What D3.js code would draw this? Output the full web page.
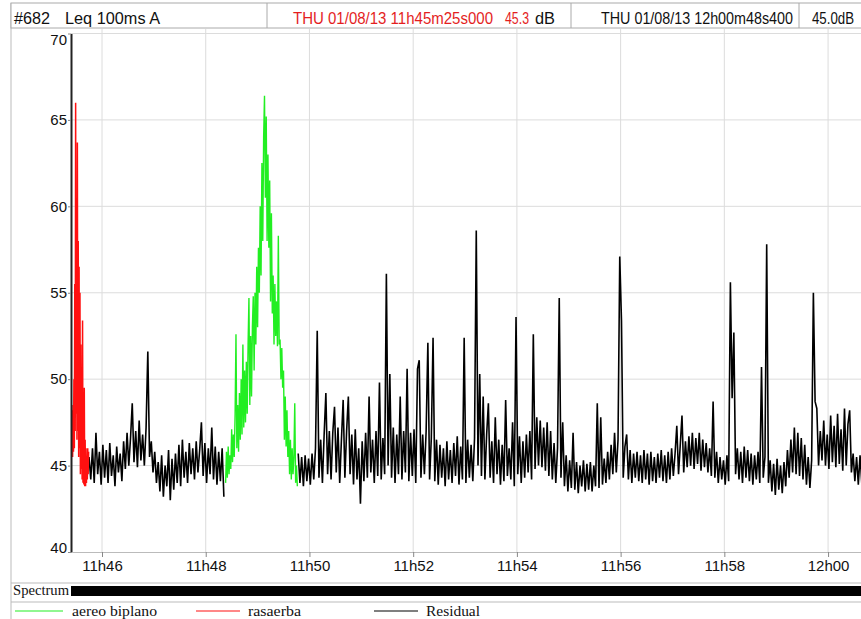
<!DOCTYPE html>
<meta charset="utf-8">
<style>
    body { margin: 0; background: #fff; }
    svg { display: block; }
    .grid line { stroke: #dcdcdc; stroke-width: 1; }
    .axis text { font-family: "Liberation Sans", Arial, sans-serif; font-size: 15px; fill: #111; }
    .head text { font-family: "Liberation Sans", Arial, sans-serif; font-size: 16px; }
    .legend text, .spect text { font-family: "Liberation Serif", "Times New Roman", serif; font-size: 14.5px; fill: #111; }
</style>

<svg width="861" height="619"></svg>

<script src="https://d3js.org/d3.v7.min.js"></script>

<script>

    // measurement window (11h45m25s000 -> 12h00m48s400)
    var startTime = new Date(2013, 7, 1, 11, 45, 25, 0),
        endTime = new Date(2013, 7, 1, 12, 0, 48, 400);

    // rasaerba, Leq 100ms A, one value every 0.5 s from 11h45m25s
    var rasaerbaLeq = [46, 48.2, 45.5, 48.5, 45.8, 50, 46, 55.5, 47, 66,
        48, 60, 46.5, 63.7, 47, 58, 45.5, 56.5, 46, 55,
        44.5, 52, 44.8, 50, 44.2, 53.4, 44, 48, 43.9, 49.5,
        43.8, 46.5, 43.8, 46, 44, 45.5, 44.2, 46, 44.5, 45.8];

    // aereo biplano, one value every 1 s from 11h48m23s
    var biplanoLeq = [44.0, 45.8, 44.3, 46.1, 44.5, 45.6, 44.8, 47.1, 45.2, 46.8,
        45.5, 48.0, 52.6, 46.0, 48.5, 45.8, 49.2, 46.5, 50.0, 46.8,
        52.0, 47.2, 50.5, 47.5, 51.0, 48.0, 52.0, 54.7, 48.5, 52.5,
        49.0, 53.0, 54.8, 50.5, 55.0, 52.0, 56.5, 53.0, 57.6, 55.0,
        60.0, 56.0, 62.5, 58.0, 64.0, 66.4, 60.5, 65.2, 58.0, 63.0,
        57.6, 61.5, 54.5, 59.6, 53.8, 56.0, 52.0, 55.5, 52.5, 54.5,
        51.9, 58.3, 52.0, 52.3, 50.0, 51.8, 49.5, 50.5, 46.5, 49.0,
        46.1, 48.2, 45.5, 47.0, 44.5, 46.5, 44.2, 46.0, 44.5, 45.5,
        48.6, 44.0, 45.0, 43.8];

    // residual, one value every 2 s from 11h45m45s (before the biplane)
    var residualLeqA = [45.5, 44.2, 46.0, 44.0, 46.9, 44.5, 45.8, 43.9, 46.2, 44.3,
        45.9, 44.0, 46.3, 44.4, 45.6, 43.8, 46.1, 44.6, 45.7, 44.1,
        46.4, 44.8, 46.9, 45.0, 46.6, 48.6, 45.2, 47.0, 44.9, 47.6,
        45.3, 46.8, 45.0, 47.2, 51.6, 45.5, 46.4, 44.6, 45.8, 44.0,
        45.2, 43.5, 45.6, 43.2, 45.0, 43.8, 45.9, 43.0, 45.4, 43.6,
        45.7, 44.0, 46.2, 43.8, 46.5, 44.3, 45.8, 44.0, 46.3, 44.5,
        46.0, 44.2, 46.4, 44.6, 45.9, 47.5, 44.4, 46.3, 44.0, 46.0,
        44.5, 47.2, 44.2, 46.1, 43.9, 45.8, 44.1, 46.0, 43.2];

    // residual, one value every 2 s from 11h49m47s (after the biplane)
    var residualLeqB = [45.7, 44.0, 45.5, 43.8, 45.6, 44.1, 45.4, 43.9, 45.7, 44.2,
        46.0, 52.8, 44.3, 46.5, 44.0, 46.8, 49.2, 44.5, 47.0, 44.2,
        46.9, 48.4, 44.6, 47.2, 44.0, 46.5, 48.8, 44.3, 47.0, 49.0,
        44.5, 46.8, 43.9, 47.1, 44.2, 46.0, 42.8, 46.4, 44.1, 46.9,
        44.3, 49.0, 44.6, 46.5, 44.0, 47.0, 44.4, 49.8, 44.2, 46.6,
        44.5, 56.1, 45.0, 50.3, 44.3, 47.2, 44.0, 46.8, 44.5, 49.0,
        44.2, 47.0, 44.6, 50.6, 44.1, 46.9, 44.4, 47.1, 44.0, 50.6,
        51.1, 44.3, 46.8, 44.5, 47.0, 52.1, 44.2, 46.6, 52.4, 44.1,
        46.5, 43.9, 46.2, 44.3, 46.0, 43.8, 46.4, 44.2, 45.9, 44.0,
        46.3, 44.4, 46.7, 43.9, 46.1, 44.2, 52.4, 44.0, 46.5, 44.3,
        46.2, 44.1, 46.6, 58.6, 45.0, 50.3, 44.4, 49.0, 44.2, 46.8,
        48.6, 44.3, 46.4, 44.0, 47.8, 44.5, 46.5, 43.9, 46.2, 44.1,
        48.8, 44.4, 46.0, 44.2, 47.5, 43.8, 53.6, 44.5, 46.7, 44.0,
        46.4, 44.3, 46.8, 44.6, 47.0, 44.2, 52.6, 44.8, 47.8, 45.0,
        47.6, 44.9, 47.2, 44.7, 47.5, 44.4, 47.0, 44.2, 46.3, 44.0,
        46.0, 54.7, 44.3, 47.5, 43.8, 45.6, 43.5, 45.3, 43.7, 46.9,
        43.6, 45.2, 43.4, 45.0, 43.8, 45.3, 43.5, 45.1, 43.6, 45.2,
        43.5, 45.0, 43.8, 48.6, 43.7, 47.8, 43.9, 45.4, 44.0, 45.8,
        44.2, 46.2, 44.5, 46.9, 44.6, 46.5, 57.1, 53.4, 44.3, 46.1,
        46.8, 44.2, 45.9, 44.0, 45.7, 44.3, 45.8, 44.1, 45.6, 44.0,
        45.9, 44.2, 45.7, 43.9, 45.8, 44.1, 45.5, 44.0, 45.7, 44.3,
        45.9, 44.1, 45.6, 44.0, 45.8, 44.2, 46.0, 44.4, 45.7, 47.3,
        44.5, 46.2, 47.9, 44.6, 46.4, 44.9, 46.7, 45.0, 46.9, 44.8,
        46.6, 45.1, 46.9, 44.7, 46.5, 44.9, 46.3, 44.6, 46.0, 44.4,
        48.7, 44.3, 45.8, 44.0, 45.5, 44.2, 45.3, 43.9, 45.6, 44.1,
        55.6, 48.9, 52.7, 44.5, 46.0, 44.2, 45.8, 44.0, 46.1, 44.3,
        45.9, 44.1, 45.7, 43.9, 45.6, 44.2, 45.8, 44.0, 50.7, 44.3,
        45.5, 57.8, 44.0, 45.3, 43.5, 45.1, 43.3, 45.4, 43.6, 45.0,
        43.4, 45.2, 43.8, 45.9, 44.3, 46.5, 44.6, 47.2, 44.5, 46.9,
        44.4, 46.6, 44.2, 46.2, 43.9, 45.5, 43.7, 45.3, 55.0, 48.7,
        48.3, 45.0, 47.0, 45.3, 47.6, 45.0, 46.8, 44.8, 47.9, 45.2,
        47.3, 44.9, 48.0, 45.1, 47.1, 44.7, 48.3, 45.0, 47.4, 48.2,
        44.6, 45.7, 44.1, 45.5, 43.9, 45.6, 44.0, 45.4, 43.8, 45.7,
        44.2];

    var dbTicks = [40, 45, 50, 55, 60, 65, 70];

    var legendNames = ["aereo biplano", "rasaerba", "Residual"],
        legendColors = ["#22ee22", "#ff1010", "#000000"];

    var svg = d3.select("svg"),
        width = +svg.attr("width"),
        height = +svg.attr("height");

    function series(values, t0, stepSec) {
        return values.map(function (v, i) {
            return {time: new Date(+t0 + i * stepSec * 1000), v: v};
        });
    }

    var x = d3.scaleTime().domain([startTime, endTime]).range([71.75, 869.9]);
    var y = d3.scaleLinear().domain([40, 70]).range([552, 33.5]);

    var timeTicks = x.ticks(d3.timeMinute.every(2));

    // frame + header
    svg.append("line").attr("x1", 11).attr("x2", 11).attr("y1", 3).attr("y2", height)
            .attr("stroke", "#bbb");

    var head = svg.append("g").attr("class", "head");
    head.append("rect").attr("x", 11).attr("y", 3).attr("width", 880).attr("height", 25)
            .attr("fill", "#fff").attr("stroke", "#aaa");
    [267, 571, 799].forEach(function (sx) {
        head.append("line").attr("x1", sx).attr("x2", sx).attr("y1", 3).attr("y2", 28).attr("stroke", "#aaa");
    });
    function headText(str, px, len, col) {
        head.append("text").attr("x", px).attr("y", 24).attr("fill", col)
                .attr("textLength", len).attr("lengthAdjust", "spacingAndGlyphs").text(str);
    }
    headText("#682", 14, 36, "#111");
    headText("Leq 100ms A", 65, 95, "#111");
    headText("THU 01/08/13 11h45m25s000", 293, 200, "#e41e1e");
    headText("45.3", 505, 24, "#e41e1e");
    headText("dB", 535, 20, "#111");
    headText("THU 01/08/13 12h00m48s400", 601, 192, "#111");
    headText("45.0dB", 812, 42, "#111");

    // grid
    var grid = svg.append("g").attr("class", "grid");
    grid.selectAll(".gx").data(timeTicks).enter().append("line")
            .attr("x1", function (d) { return x(d); })
            .attr("x2", function (d) { return x(d); })
            .attr("y1", 29).attr("y2", y(40));
    grid.selectAll(".gy").data(dbTicks.slice(1)).enter().append("line")
            .attr("x1", 71).attr("x2", width)
            .attr("y1", function (d) { return y(d); })
            .attr("y2", function (d) { return y(d); });

    // data
    var line = d3.line()
            .x(function (d) { return x(d.time); })
            .y(function (d) { return y(d.v); });

    var residualA = series(residualLeqA, new Date(2013, 7, 1, 11, 45, 45), 2),
        residualB = series(residualLeqB, new Date(2013, 7, 1, 11, 49, 47), 2),
        biplano = series(biplanoLeq, new Date(2013, 7, 1, 11, 48, 23), 1),
        rasaerba = series(rasaerbaLeq, startTime, 0.5);

    var plot = svg.append("g").attr("fill", "none").attr("stroke-linejoin", "bevel");
    [residualA, residualB].forEach(function (s) {
        plot.append("path").datum(s).attr("d", line)
                .attr("stroke", legendColors[2]).attr("stroke-width", 1.6);
    });
    plot.append("path").datum(rasaerba).attr("d", line)
            .attr("stroke", legendColors[1]).attr("stroke-width", 1.5);
    plot.append("path").datum(biplano).attr("d", line)
            .attr("stroke", legendColors[0]).attr("stroke-width", 1.4);

    // axes
    var yAxis = svg.append("g").attr("class", "axis")
            .attr("transform", "translate(71,0)")
            .call(d3.axisLeft(y).tickValues(dbTicks).tickSize(3).tickSizeOuter(0).tickPadding(1));
    yAxis.select(".domain").attr("stroke", "#222").attr("stroke-width", 2);
    yAxis.selectAll(".tick line").attr("stroke", "#888");
    yAxis.selectAll(".tick text").attr("dy", function (d) {
        return d === 70 ? "0.7em" : d === 40 ? "0.05em" : "0.32em";
    });

    var xAxis = svg.append("g").attr("class", "axis")
            .attr("transform", "translate(0," + y(40) + ")")
            .call(d3.axisBottom(x).ticks(d3.timeMinute.every(2))
                    .tickFormat(d3.timeFormat("%Hh%M")).tickSize(5).tickSizeOuter(0).tickPadding(3));
    xAxis.select(".domain").attr("stroke", "#bbb");
    xAxis.selectAll(".tick line").attr("stroke", "#888");

    // spectrum strip
    var spect = svg.append("g").attr("class", "spect");
    spect.append("line").attr("x1", 11).attr("x2", width).attr("y1", 583).attr("y2", 583).attr("stroke", "#bbb");
    spect.append("line").attr("x1", 11).attr("x2", width).attr("y1", 602).attr("y2", 602).attr("stroke", "#bbb");
    spect.append("text").attr("x", 13).attr("y", 595)
            .attr("textLength", 56).attr("lengthAdjust", "spacingAndGlyphs").text("Spectrum");
    spect.append("rect").attr("x", 71).attr("y", 586).attr("width", x(endTime) - 71).attr("height", 10)
            .attr("fill", "#000");

    // legend
    var legendX = [15, 196, 374],
        legendTextLen = [85, 53, 54];
    var legend = svg.append("g").attr("class", "legend")
            .selectAll("g").data(legendNames).enter().append("g")
            .attr("transform", function (d, i) { return "translate(" + legendX[i] + ",0)"; });
    legend.append("line").attr("x1", 0).attr("x2", function (d, i) { return i === 0 ? 48 : 44; })
            .attr("y1", 611).attr("y2", 611)
            .attr("stroke", function (d, i) { return legendColors[i]; }).attr("stroke-width", 1.2);
    legend.append("text").attr("x", function (d, i) { return i === 0 ? 57 : 52; }).attr("y", 616)
            .attr("textLength", function (d, i) { return legendTextLen[i]; })
            .attr("lengthAdjust", "spacingAndGlyphs")
            .text(function (d) { return d; });

</script>
